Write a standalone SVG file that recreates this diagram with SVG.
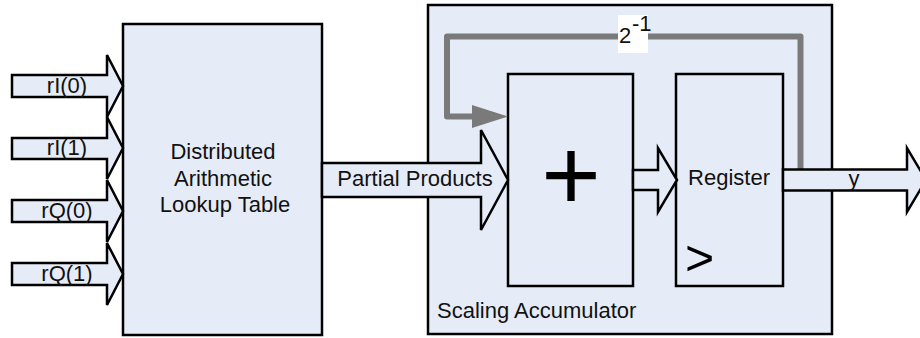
<svg xmlns="http://www.w3.org/2000/svg" width="920" height="338" viewBox="0 0 920 338">
  <style>
    .box { fill: #E6ECF7; stroke: #000; stroke-width: 2.5; }
    .bus { fill: #E6ECF7; stroke: #000; stroke-width: 2.5; stroke-linejoin: miter; }
    .lbl { font-family: "Liberation Sans", Arial, sans-serif; font-size: 22px; fill: #111; }
    .mid { text-anchor: middle; }
    .fb { fill: none; stroke: #7A7A7A; stroke-width: 6; stroke-linejoin: round; }
  </style>

  <!-- Distributed arithmetic lookup table -->
  <g id="lut">
    <rect class="box" x="123" y="24" width="199" height="311"/>
    <text class="lbl mid" x="223" y="159">Distributed</text>
    <text class="lbl mid" x="223" y="186">Arithmetic</text>
    <text class="lbl mid" x="225" y="212">Lookup Table</text>
  </g>

  <!-- Scaling accumulator container -->
  <g id="accumulator">
    <rect class="box" x="428" y="5" width="404" height="329"/>
    <text class="lbl" x="437" y="318">Scaling Accumulator</text>
  </g>

  <!-- Adder -->
  <g id="adder">
    <rect class="box" x="508" y="74" width="125" height="212"/>
    <text x="571" y="210" text-anchor="middle" font-family="Liberation Sans, Arial, sans-serif" font-size="102" fill="#000">+</text>
  </g>

  <!-- Register -->
  <g id="register">
    <rect class="box" x="676" y="74" width="107" height="212"/>
    <text class="lbl mid" x="729" y="185">Register</text>
    <text x="685" y="275" font-family="Liberation Sans, Arial, sans-serif" font-size="50" fill="#000">&gt;</text>
  </g>

  <!-- Connectors: bus arrows and feedback path -->
  <g id="connectors">
    <!-- inputs into the lookup table -->
    <g id="in-rI0">
      <path class="bus" d="M12 75 H107 V55 L123 86 L107 117 V97 H12 Z"/>
      <text class="lbl mid" x="67" y="93">rI(0)</text>
    </g>
    <g id="in-rI1">
      <path class="bus" d="M12 138 H107 V117 L123 148 L107 179 V159 H12 Z"/>
      <text class="lbl mid" x="67" y="155">rI(1)</text>
    </g>
    <g id="in-rQ0">
      <path class="bus" d="M12 200 H107 V180 L123 211 L107 242 V222 H12 Z"/>
      <text class="lbl mid" x="67" y="218">rQ(0)</text>
    </g>
    <g id="in-rQ1">
      <path class="bus" d="M12 263 H107 V243 L123 274 L107 305 V285 H12 Z"/>
      <text class="lbl mid" x="67" y="281">rQ(1)</text>
    </g>

    <!-- feedback from register output to adder, scaled by 2^-1 -->
    <g id="feedback">
      <path class="fb" d="M800.5 172 V36.5 H447 V116.5 H476"/>
      <polygon points="472,105 508,116.5 472,128" fill="#7A7A7A"/>
      <rect x="618" y="15" width="30" height="38" fill="#fff"/>
      <text class="lbl" x="619" y="43" font-size="23">2</text>
      <text class="lbl" x="632" y="31" font-size="14">-1</text>
    </g>

    <!-- partial products into the adder -->
    <g id="partial-products">
      <path class="bus" d="M322 163 H481 V130 L508 180 L481 230 V197 H322 Z"/>
      <text class="lbl mid" x="415" y="186">Partial Products</text>
    </g>

    <!-- adder to register -->
    <path class="bus" d="M633 170 H658 V148 L677 180 L658 212 V190 H633 Z"/>

    <!-- output y -->
    <g id="out-y">
      <path class="bus" d="M783 169.5 H907 V148 L926 180 L907 212 V190.5 H783 Z"/>
      <text class="lbl mid" x="854" y="186">y</text>
    </g>
  </g>
</svg>
